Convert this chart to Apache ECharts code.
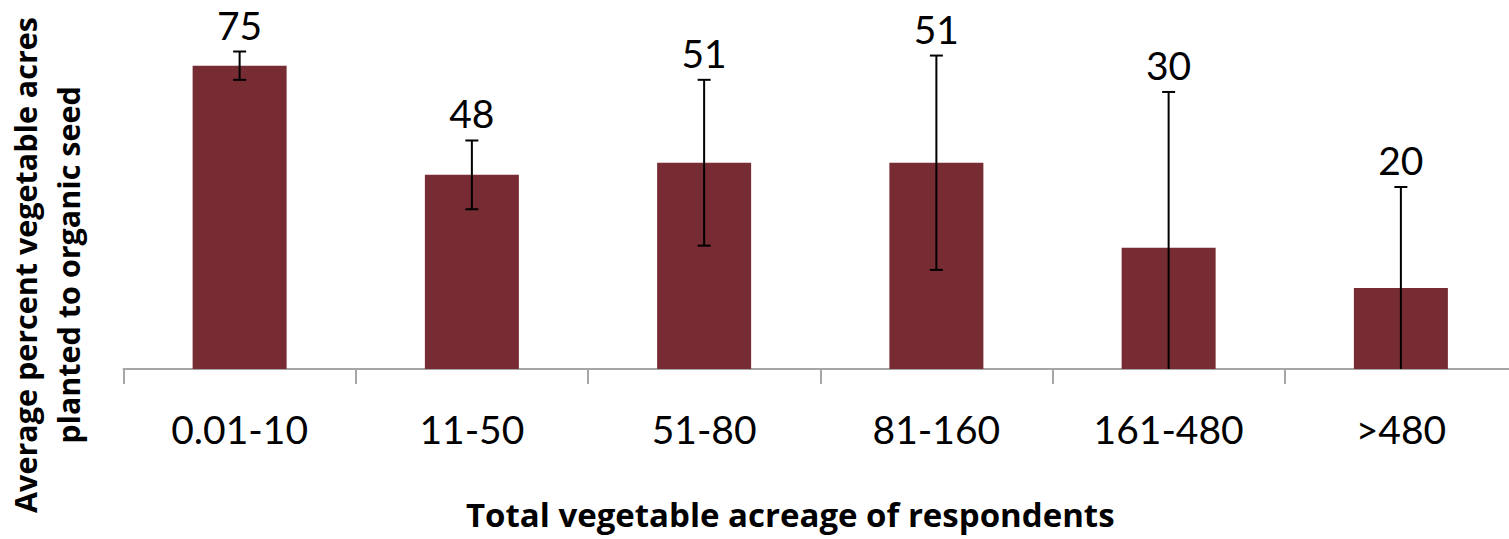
<!DOCTYPE html>
<html>
<head>
<meta charset="utf-8">
<script src="https://cdn.jsdelivr.net/npm/echarts@6/dist/echarts.min.js"></script>
<style>
html,body{margin:0;padding:0;background:#fff;}
#chart{width:1509px;height:539px;}
</style>
</head>
<body>
<div id="chart"></div>
<script>
const categories = ['0.01-10', '11-50', '51-80', '81-160', '161-480', '>480'];
const values = [75, 48, 51, 51, 30, 20];
const errors = [3.5, 8.5, 20.5, 26.5, 38.5, 25];
const xTitle = 'Total vegetable acreage of respondents';
const yTitle = 'Average percent vegetable acres\nplanted to organic seed';

const chart = echarts.init(document.getElementById('chart'), null, {renderer: 'svg'});
const errData = values.map((v, i) => [i, v, errors[i]]);

chart.setOption({
  animation: false,
  grid: {left: 123.5, top: 5, width: 1393.5, height: 364, containLabel: false, outerBoundsMode: 'none'},
  xAxis: {
    type: 'category',
    data: categories,
    boundaryGap: true,
    axisLine: {show: true, lineStyle: {color: '#A6A6A6', width: 2}},
    axisTick: {show: true, length: 15, lineStyle: {color: '#A6A6A6', width: 2}},
    axisLabel: {margin: 40, color: '#000', fontFamily: 'Lato', fontSize: 39},
    name: xTitle,
    nameLocation: 'middle',
    nameGap: 129,
    nameTextStyle: {color: '#000', fontFamily: 'Open Sans', fontWeight: 'bold', fontSize: 33, padding: [0, 60, 0, 0]}
  },
  yAxis: {
    type: 'value',
    min: 0,
    max: 90,
    axisLine: {show: false},
    axisTick: {show: false},
    axisLabel: {show: false},
    splitLine: {show: false},
    name: yTitle,
    nameLocation: 'middle',
    nameRotate: 90,
    nameGap: 34,
    nameTextStyle: {color: '#000', fontFamily: 'Open Sans', fontWeight: 'bold', fontSize: 30.5, lineHeight: 43, align: 'center', padding: [0, 156, 0, 0]}
  },
  series: [
    {
      type: 'bar',
      data: values,
      barWidth: 94,
      itemStyle: {color: '#772B32'},
      z: 2
    },
    {
      type: 'custom',
      data: errData,
      z: 5,
      renderItem: function (params, api) {
        const i = api.value(0), v = api.value(1), e = api.value(2);
        const top = api.coord([i, v + e]);
        const low = Math.max(0, v - e);
        const bot = api.coord([i, low]);
        const cw = 6.5;
        const ls = {stroke: '#000', lineWidth: 2};
        const children = [
          {type: 'line', shape: {x1: top[0], y1: top[1], x2: bot[0], y2: bot[1]}, style: ls},
          {type: 'line', shape: {x1: top[0] - cw, y1: top[1], x2: top[0] + cw, y2: top[1]}, style: ls}
        ];
        if (v - e > 0) {
          children.push({type: 'line', shape: {x1: bot[0] - cw, y1: bot[1], x2: bot[0] + cw, y2: bot[1]}, style: ls});
        }
        children.push({
          type: 'text',
          x: top[0],
          y: top[1] - 27,
          style: {text: String(v), fill: '#000', fontFamily: 'Lato', fontSize: 39, align: 'center', verticalAlign: 'middle'}
        });
        return {type: 'group', children: children};
      }
    }
  ]
});
</script>
</body>
</html>
